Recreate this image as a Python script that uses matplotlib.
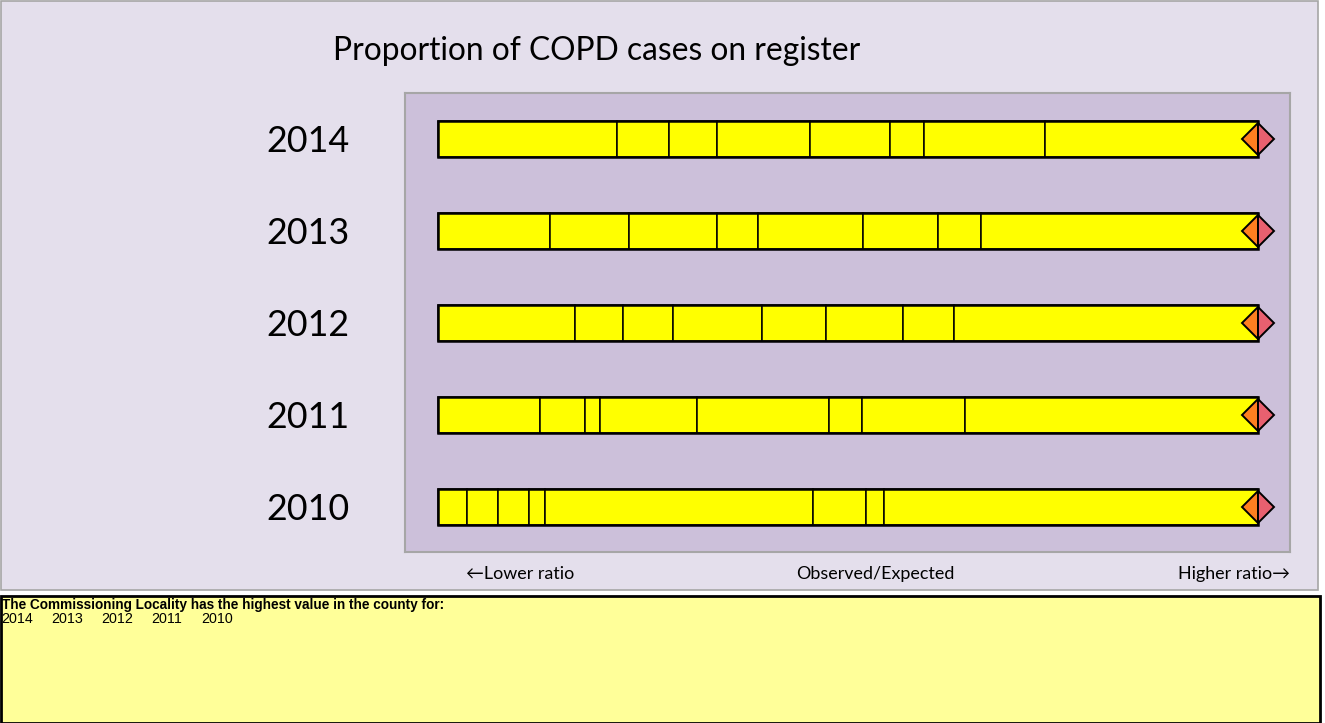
import matplotlib
matplotlib.use("Agg")
import matplotlib.pyplot as plt
from matplotlib.patches import Rectangle

# ---- data (Observed/Expected scale, normalised: 0 = lowest, 100 = highest) ----
years = ["2010", "2011", "2012", "2013", "2014"]
bounds_2010 = [0, 3.5, 7.3, 11.1, 13.0, 45.7, 52.2, 54.4, 100]
bounds_2011 = [0, 12.4, 17.9, 19.8, 31.6, 47.7, 51.7, 64.3, 100]
bounds_2012 = [0, 16.7, 22.6, 28.7, 39.5, 47.3, 56.7, 62.9, 100]
bounds_2013 = [0, 13.7, 23.3, 34.0, 39.0, 51.8, 61.0, 66.2, 100]
bounds_2014 = [0, 21.8, 28.2, 34.0, 45.4, 55.1, 59.3, 74.0, 100]
locality_value = [100, 100, 100, 100, 100]
highest_years = ["2014", "2013", "2012", "2011", "2010"]

all_bounds = [bounds_2010, bounds_2011, bounds_2012, bounds_2013, bounds_2014]

W, H = 1325, 723
fig = plt.figure(figsize=(W / 100, H / 100), dpi=100)
fig.patch.set_facecolor("white")

def fx(px):
    return px / W

def fy(py):
    return 1 - py / H

# outer chart frame
fig.patches.append(Rectangle((fx(0.5), fy(590)), fx(1317), 590 / H - 0.5 / H,
                             transform=fig.transFigure, facecolor="#E4DFEC",
                             edgecolor="#A6A6A6", linewidth=1.2, zorder=-2))
# bottom note box
fig.patches.append(Rectangle((fx(1), fy(723)), fx(1319), (723 - 596) / H,
                             transform=fig.transFigure, facecolor="#FFFF99",
                             edgecolor="black", linewidth=2, zorder=-2))

ax = fig.add_axes([fx(405), fy(552), fx(1290 - 405), (552 - 93) / H])
ax.set_zorder(2)
ax.set_facecolor("#CCC0DA")
for s in ax.spines.values():
    s.set_color("#A6A6A6")
    s.set_linewidth(1.5)

bar_h = 0.39
for yi, b in enumerate(all_bounds):
    lefts = b[:-1]
    widths = [b[i + 1] - b[i] for i in range(len(b) - 1)]
    ax.barh([yi] * len(widths), widths, left=lefts, height=bar_h,
            color="#FFFF00", edgecolor="black", linewidth=1.1, zorder=2)
    ax.barh(yi, b[-1] - b[0], left=b[0], height=bar_h, fill=False,
            edgecolor="black", linewidth=1.8, zorder=3)

ax.plot(locality_value, range(len(years)), linestyle="none", marker="D",
        markersize=16, fillstyle="left", markerfacecolor="#FF7F20",
        markerfacecoloralt="#E8606F", markeredgecolor="black",
        markeredgewidth=1.4, zorder=4)

ax.set_xlim(-4.02, 103.9)
ax.set_ylim(-0.49, 4.5)
ax.set_xticks([])
ax.set_yticks(range(len(years)))
ax.set_yticklabels(years, fontsize=25.8, family=["Lato", "DejaVu Sans"])
ax.tick_params(axis="y", length=0, pad=40)

fig.text(fx(597), fy(51), "Proportion of COPD cases on register", ha="center",
         va="center", fontsize=22.9, family=["Lato", "DejaVu Sans"])

lab_font = dict(fontsize=12.9, family=["Lato", "DejaVu Sans"], va="center")
fig.text(fx(520), fy(574), "\u2190Lower ratio", ha="center", **lab_font)
fig.text(fx(875), fy(574), "Observed/Expected", ha="center", **lab_font)
fig.text(fx(1290), fy(574), "Higher ratio\u2192", ha="right", **lab_font)

fig.text(fx(2), fy(605), "The Commissioning Locality has the highest value in the county for:",
         ha="left", va="center", fontsize=9.8, fontweight="bold",
         family=["Liberation Sans", "DejaVu Sans"])
for i, yr in enumerate(highest_years):
    fig.text(fx(1 + i * 50), fy(619), yr, ha="left", va="center", fontsize=10.3,
             family=["Liberation Sans", "DejaVu Sans"])

fig.savefig("out.png", dpi=100)
